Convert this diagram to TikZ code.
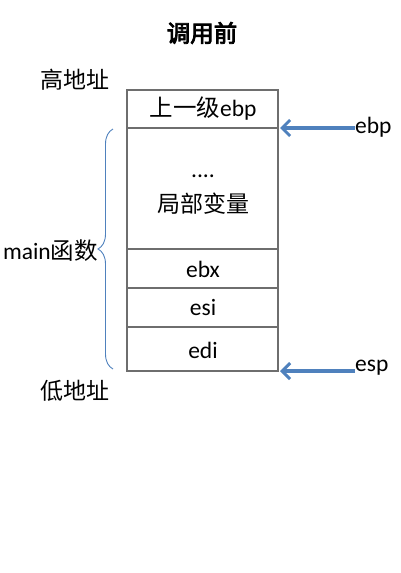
\documentclass[tikz,border=0pt]{standalone}
\usepackage{fontspec}
\setmainfont{Carlito}
\newfontfamily\cjk{Noto Sans CJK SC}
\newfontfamily\cjkbold[FakeBold=3.5]{Noto Sans CJK SC}
\usetikzlibrary{arrows.meta,decorations.pathreplacing}
\definecolor{arrowblue}{HTML}{4F81BD}
\definecolor{boxgray}{HTML}{6E6E6E}
\tikzset{
  lbl/.style={inner sep=0pt, font=\fontsize{23.5}{25}\selectfont},
  cjklbl/.style={inner sep=0pt, font=\fontsize{23}{25}\selectfont\cjk},
  ptr/.style={draw=arrowblue, line width=3.4pt, -{Straight Barb[length=8pt,width=16pt,line width=3pt]}},
  cellline/.style={draw=boxgray, line width=1.5pt},
}
\begin{document}
\begin{tikzpicture}[x=1pt,y=-1pt]
\useasboundingbox (0,0) rectangle (400,573);
% title
\node[inner sep=0pt, font=\fontsize{23.5}{25}\selectfont\cjkbold] (title) at (202,33) {调用前};
% labels
\node[cjklbl] (high) at (75,80) {高地址};
\node[cjklbl] (low) at (75,391) {低地址};
% stack box
\draw[cellline] (127,90) rectangle (278,371);
\draw[cellline] (127,128) -- (278,128);
\draw[cellline] (127,249) -- (278,249);
\draw[cellline] (127,288) -- (278,288);
\draw[cellline] (127,327) -- (278,327);
\coordinate (ebpline) at (280,128);
\coordinate (espline) at (280,371);
% cells
\node[lbl] (c1) at (203,109) {{\cjk 上一级}ebp};
\node[lbl] (dots) at (203,176) {....};
\node[cjklbl] (local) at (203,204) {局部变量};
\node[lbl] (ebx) at (203,269) {ebx};
\node[lbl] (esi) at (203,307) {esi};
\node[lbl] (edi) at (203,350) {edi};
% pointers
\node[lbl, anchor=west] (ebp) at (355,127) {ebp};
\node[lbl, anchor=west] (esp) at (355,368) {esp};
\draw[ptr] (ebp.west |- ebpline) -- (ebpline);
\draw[ptr] (esp.west |- espline) -- (espline);
% brace
\coordinate (btop) at (113,129);
\coordinate (bbot) at (113,369);
\draw[arrowblue, line width=0.9pt, decorate, decoration={brace, amplitude=15pt, mirror}] (btop) -- (bbot);
\node[lbl, anchor=east] (main) at (98,251) {main{\cjk 函数}};
\end{tikzpicture}
\end{document}
